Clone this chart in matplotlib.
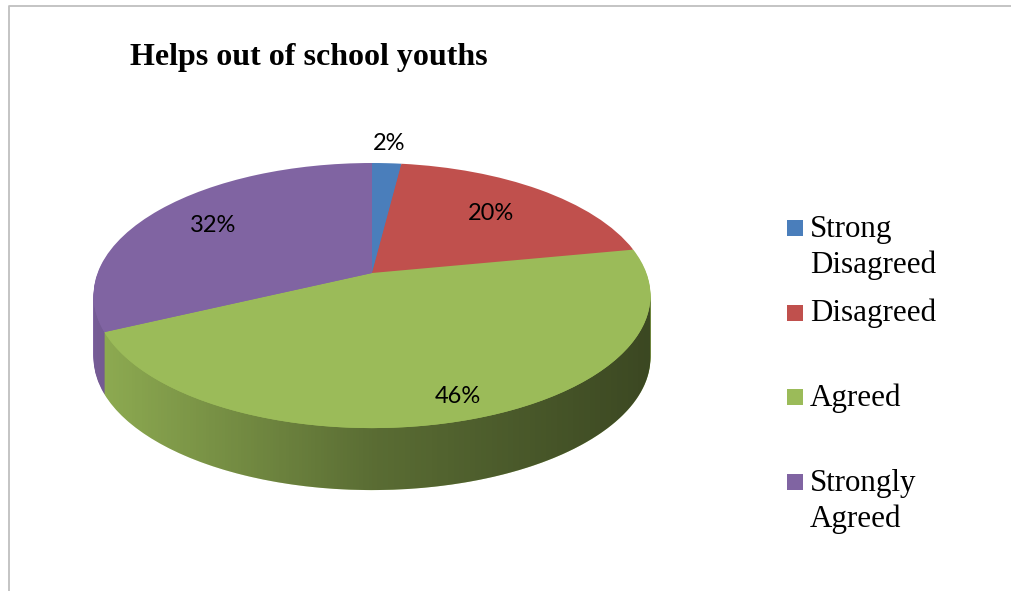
import numpy as np
import matplotlib
matplotlib.use('Agg')
import matplotlib.pyplot as plt
import matplotlib.transforms as mtransforms
from matplotlib.patches import PathPatch, Rectangle
from matplotlib.path import Path

# data
categories = ['Strong\nDisagreed', 'Disagreed', 'Agreed', 'Strongly\nAgreed']
shares = [2, 20, 46, 32]
colors = ['#4A7EBB', '#C0504D', '#9BBB59', '#8064A2']
title = 'Helps out of school youths'

# layout of the tilted pie (pixels)
cx, cy = 372, 273          # apex of the pie
sx, sy = 274.4, 128.7      # horizontal / vertical scale
k = 0.17                   # perspective strength
depth = 62                 # thickness of the disc
label_dist = [1.22, 0.69, 0.87, 0.73]


class Tilt(mtransforms.Transform):
    """unit circle -> tilted disc seen in perspective (pixel coords)"""
    input_dims = 2
    output_dims = 2
    is_separable = False
    has_inverse = False

    def __init__(self, dy=0):
        super().__init__()
        self.dy = dy

    def transform_non_affine(self, xy):
        xy = np.asarray(xy, dtype=float)
        u, v = xy[..., 0], xy[..., 1]
        w = 1 + k * v
        return np.stack([cx + sx * u / w, cy + self.dy - sy * v / w], axis=-1)


fig = plt.figure(figsize=(10.12, 5.91), dpi=100)
ax = fig.add_axes([0, 0, 1, 1])

# side of the disc: stacked pies
for d in range(depth, 0, -1):
    wedges, _ = ax.pie(shares, colors=colors, startangle=90, counterclock=False,
                       wedgeprops=dict(linewidth=0))
    for w in wedges:
        w.set_transform(Tilt(d) + ax.transData)
        w.set_zorder(1)

# shading of the side, darker to the right
t0 = np.arcsin(k)
t = np.linspace(-t0, -np.pi + t0, 200)
circ = np.column_stack([np.cos(t), np.sin(t)])
upper = Tilt(0).transform_non_affine(circ)
lower = Tilt(depth).transform_non_affine(circ)[::-1]
side = np.vstack([upper, lower, upper[:1]])
side_patch = PathPatch(Path(side), transform=ax.transData)
x_left, x_right = side[:, 0].min(), side[:, 0].max()
alpha = np.interp(np.linspace(0, 1, 256), [0, 0.5, 1], [0.08, 0.42, 0.62])
shade = np.zeros((1, 256, 4))
shade[..., 3] = alpha
im = ax.imshow(shade, extent=(x_left, x_right, cy + 250, cy - 150),
               aspect='auto', interpolation='bilinear', zorder=2)
im.set_clip_path(side_patch)

# top face
top = Tilt(0)
wedges, _ = ax.pie(shares, colors=colors, startangle=90, counterclock=False,
                   wedgeprops=dict(linewidth=0))
for w, s, r in zip(wedges, shares, label_dist):
    w.set_transform(top + ax.transData)
    w.set_zorder(3)
    mid = np.deg2rad((w.theta1 + w.theta2) / 2)
    ax.text(r * np.cos(mid), r * np.sin(mid), f'{s}%', transform=top + ax.transData,
            ha='center', va='center', fontsize=17, family='Lato', zorder=4)

ax.set_xlim(0, 1012)
ax.set_ylim(591, 0)
ax.set_aspect('auto')
ax.axis('off')

# title
ax.text(130, 65, title, ha='left', va='baseline', fontsize=23,
        family='Liberation Serif', weight='bold')

# legend
for i, (lab, col) in enumerate(zip(categories, colors)):
    yc = 228 + 84.5 * i
    ax.add_patch(Rectangle((787, yc - 8), 16, 16, facecolor=col, edgecolor='none'))
    for j, line in enumerate(lab.split('\n')):
        ax.text(810, yc + 9 + 36 * j, line, ha='left', va='baseline',
                fontsize=22.3, family='Liberation Serif')

# chart border (top and left only visible)
ax.plot([9, 9, 1012], [591, 6, 6], color='#BFBFBF', lw=1.3, clip_on=False)

plt.savefig('out.png', dpi=100)
